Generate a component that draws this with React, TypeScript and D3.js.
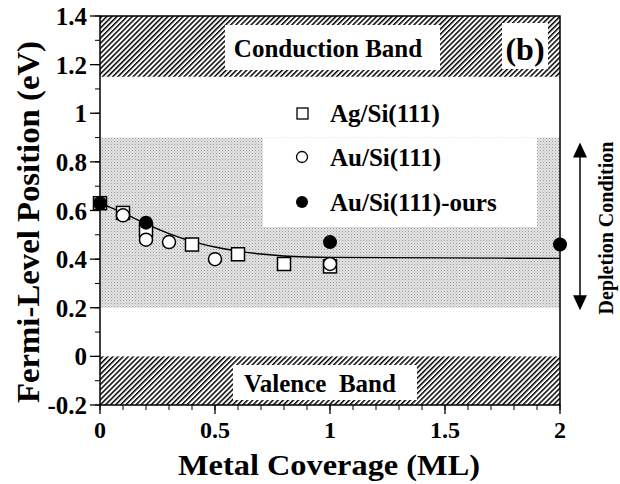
import React from "react";
import * as d3 from "d3";

// ---- data ----
const agX = [0, 0.1, 0.2, 0.4, 0.6, 0.8, 1.0];
const agY = [0.63, 0.59, 0.52, 0.46, 0.42, 0.38, 0.37];
const auX = [0.1, 0.2, 0.3, 0.5, 1.0];
const auY = [0.58, 0.48, 0.47, 0.4, 0.38];
const oursX = [0, 0.2, 1.0, 2.0];
const oursY = [0.63, 0.55, 0.47, 0.46];
const fitX = [0, 0.1, 0.2, 0.3, 0.4, 0.5, 0.6, 0.7, 0.8, 0.9, 1.0, 1.5, 2.0];
const fitY = [0.63, 0.59, 0.545, 0.505, 0.473, 0.45, 0.433, 0.421, 0.413, 0.409, 0.407, 0.405, 0.403];

const xTicks = [0, 0.5, 1, 1.5, 2];
const xTickLabels = ["0", "0.5", "1", "1.5", "2"];
const yTicks = [-0.2, 0, 0.2, 0.4, 0.6, 0.8, 1.0, 1.2, 1.4];
const yTickLabels = ["-0.2", "0", "0.2", "0.4", "0.6", "0.8", "1", "1.2", "1.4"];
const legendLabels = ["Ag/Si(111)", "Au/Si(111)", "Au/Si(111)-ours"];

// band regions (eV)
const conductionBand = [1.15, 1.4];
const valenceBand = [-0.2, 0];
const depletionRange = [0.2, 0.9];
const arrowRange = [0.19, 0.88];

const FONT = "'Liberation Serif', 'Times New Roman', Times, serif";
const T: React.CSSProperties = { fontFamily: FONT, fontWeight: 700 };

export default function App() {
  const W = 620, H = 484;
  const x = d3.scaleLinear().domain([0, 2]).range([100, 560]);
  const y = d3.scaleLinear().domain([-0.2, 1.4]).range([405, 16]);

  const xMinor = d3.range(0, 2.0001, 0.1).map((v) => +v.toFixed(2));
  const yMinor = d3.range(-0.2, 1.4001, 0.1).map((v) => +v.toFixed(2));

  const line = d3
    .line<number>()
    .x((_, i) => x(fitX[i]))
    .y((d) => y(d))
    .curve(d3.curveMonotoneX);

  const x0 = x(0), x1 = x(2);
  const legendBox = { x: 263, y: y(depletionRange[1]), w: 274, h: 227 - y(depletionRange[1]) };

  return (
    <svg
      width={W}
      height={H}
      style={{ position: "absolute", left: 0, top: 0, background: "#fff" }}
    >
      <defs>
        <pattern id="hatch" patternUnits="userSpaceOnUse" width="3.6" height="3.6" patternTransform="rotate(45)">
          <rect x="0" y="0" width="1.5" height="3.6" fill="#000" />
        </pattern>
        <pattern id="stipple" patternUnits="userSpaceOnUse" width="3" height="3">
          <rect x="0" y="0" width="3" height="3" fill="#e2e2e2" />
          <rect x="0" y="0" width="1" height="1" fill="#9c9c9c" />
          <rect x="1.5" y="1.5" width="1" height="1" fill="#c0c0c0" />
        </pattern>
      </defs>
      <rect x="0" y="0" width={W} height={H} fill="#fff" />

      {/* depletion (gray) region */}
      <rect
        x={x0}
        y={y(depletionRange[1])}
        width={x1 - x0}
        height={y(depletionRange[0]) - y(depletionRange[1])}
        fill="url(#stipple)"
      />
      <rect x={legendBox.x} y={legendBox.y} width={legendBox.w} height={legendBox.h} fill="#fff" />

      {/* conduction band */}
      <rect
        x={x0}
        y={y(conductionBand[1])}
        width={x1 - x0}
        height={y(conductionBand[0]) - y(conductionBand[1])}
        fill="url(#hatch)"
      />
      <rect x={225} y={25} width={215} height={45} fill="#fff" />
      <text x={328} y={57} textAnchor="middle" fontSize={25} style={T}>Conduction Band</text>
      <rect x={502} y={23} width={46} height={46} fill="#fff" />
      <text x={525} y={60} textAnchor="middle" fontSize={32} style={T}>(b)</text>

      {/* valence band */}
      <rect
        x={x0}
        y={y(valenceBand[1])}
        width={x1 - x0}
        height={y(valenceBand[0]) - y(valenceBand[1])}
        fill="url(#hatch)"
      />
      <rect x={233} y={365} width={184} height={35} fill="#fff" />
      <text x={320} y={392} textAnchor="middle" fontSize={25} style={T}>
        {"Valence\u00a0\u00a0Band"}
      </text>

      {/* fit curve */}
      <path d={line(fitY) || ""} fill="none" stroke="#000" strokeWidth={1.4} />

      {/* markers */}
      {agX.map((v, i) => (
        <rect key={"ag" + i} x={x(v) - 6.5} y={y(agY[i]) - 6.5} width={13} height={13} fill="#fff" stroke="#000" strokeWidth={1.5} />
      ))}
      {auX.map((v, i) => (
        <circle key={"au" + i} cx={x(v)} cy={y(auY[i])} r={6.5} fill="#fff" stroke="#000" strokeWidth={1.5} />
      ))}
      {oursX.map((v, i) => (
        <circle key={"ours" + i} cx={x(v)} cy={y(oursY[i])} r={7} fill="#000" />
      ))}

      {/* legend */}
      <rect x={297} y={108} width={11} height={11} fill="#fff" stroke="#000" strokeWidth={1.3} />
      <circle cx={302} cy={157} r={5.5} fill="#fff" stroke="#000" strokeWidth={1.3} />
      <circle cx={302} cy={202} r={6} fill="#000" />
      {legendLabels.map((t, i) => (
        <text key={t} x={330} y={[113, 157, 202][i] + 9} fontSize={25} style={T}>{t}</text>
      ))}

      {/* frame */}
      <rect x={x0} y={y(1.4)} width={x1 - x0} height={y(-0.2) - y(1.4)} fill="none" stroke="#000" strokeWidth={1.5} />

      {/* x ticks */}
      {xMinor.map((v) => (
        <line key={"xm" + v} x1={x(v)} x2={x(v)} y1={405} y2={410} stroke="#000" strokeWidth={1} />
      ))}
      {xTicks.map((v, i) => (
        <g key={"xt" + v}>
          <line x1={x(v)} x2={x(v)} y1={405} y2={414} stroke="#000" strokeWidth={1.3} />
          <text x={x(v)} y={438} textAnchor="middle" fontSize={24} style={T}>{xTickLabels[i]}</text>
        </g>
      ))}

      {/* y ticks */}
      {yMinor.map((v) => (
        <line key={"ym" + v} x1={x0 - 5} x2={x0} y1={y(v)} y2={y(v)} stroke="#000" strokeWidth={1} />
      ))}
      {yTicks.map((v, i) => (
        <g key={"yt" + v}>
          <line x1={x0 - 10} x2={x0} y1={y(v)} y2={y(v)} stroke="#000" strokeWidth={1.3} />
          <text x={87} y={y(v) + 9} textAnchor="end" fontSize={25} style={T}>{yTickLabels[i]}</text>
        </g>
      ))}

      {/* axis titles */}
      <text x={329} y={475} textAnchor="middle" fontSize={30} textLength={302} lengthAdjust="spacingAndGlyphs" style={T}>
        Metal Coverage (ML)
      </text>
      <text
        transform={`translate(39,222) rotate(-90)`}
        textAnchor="middle"
        fontSize={32}
        textLength={362}
        lengthAdjust="spacingAndGlyphs"
        style={T}
      >
        Fermi-Level Position (eV)
      </text>

      {/* depletion arrow */}
      <line x1={580} x2={580} y1={y(arrowRange[1]) + 12} y2={y(arrowRange[0]) - 12} stroke="#000" strokeWidth={1.5} />
      <path
        d={`M580,${y(arrowRange[1])} L587,${y(arrowRange[1]) + 15} L573,${y(arrowRange[1]) + 15} Z`}
        fill="#000"
      />
      <path
        d={`M580,${y(arrowRange[0])} L587,${y(arrowRange[0]) - 15} L573,${y(arrowRange[0]) - 15} Z`}
        fill="#000"
      />
      <text transform={`translate(613,228) rotate(-90)`} textAnchor="middle" fontSize={20} style={T}>
        Depletion Condition
      </text>
    </svg>
  );
}
